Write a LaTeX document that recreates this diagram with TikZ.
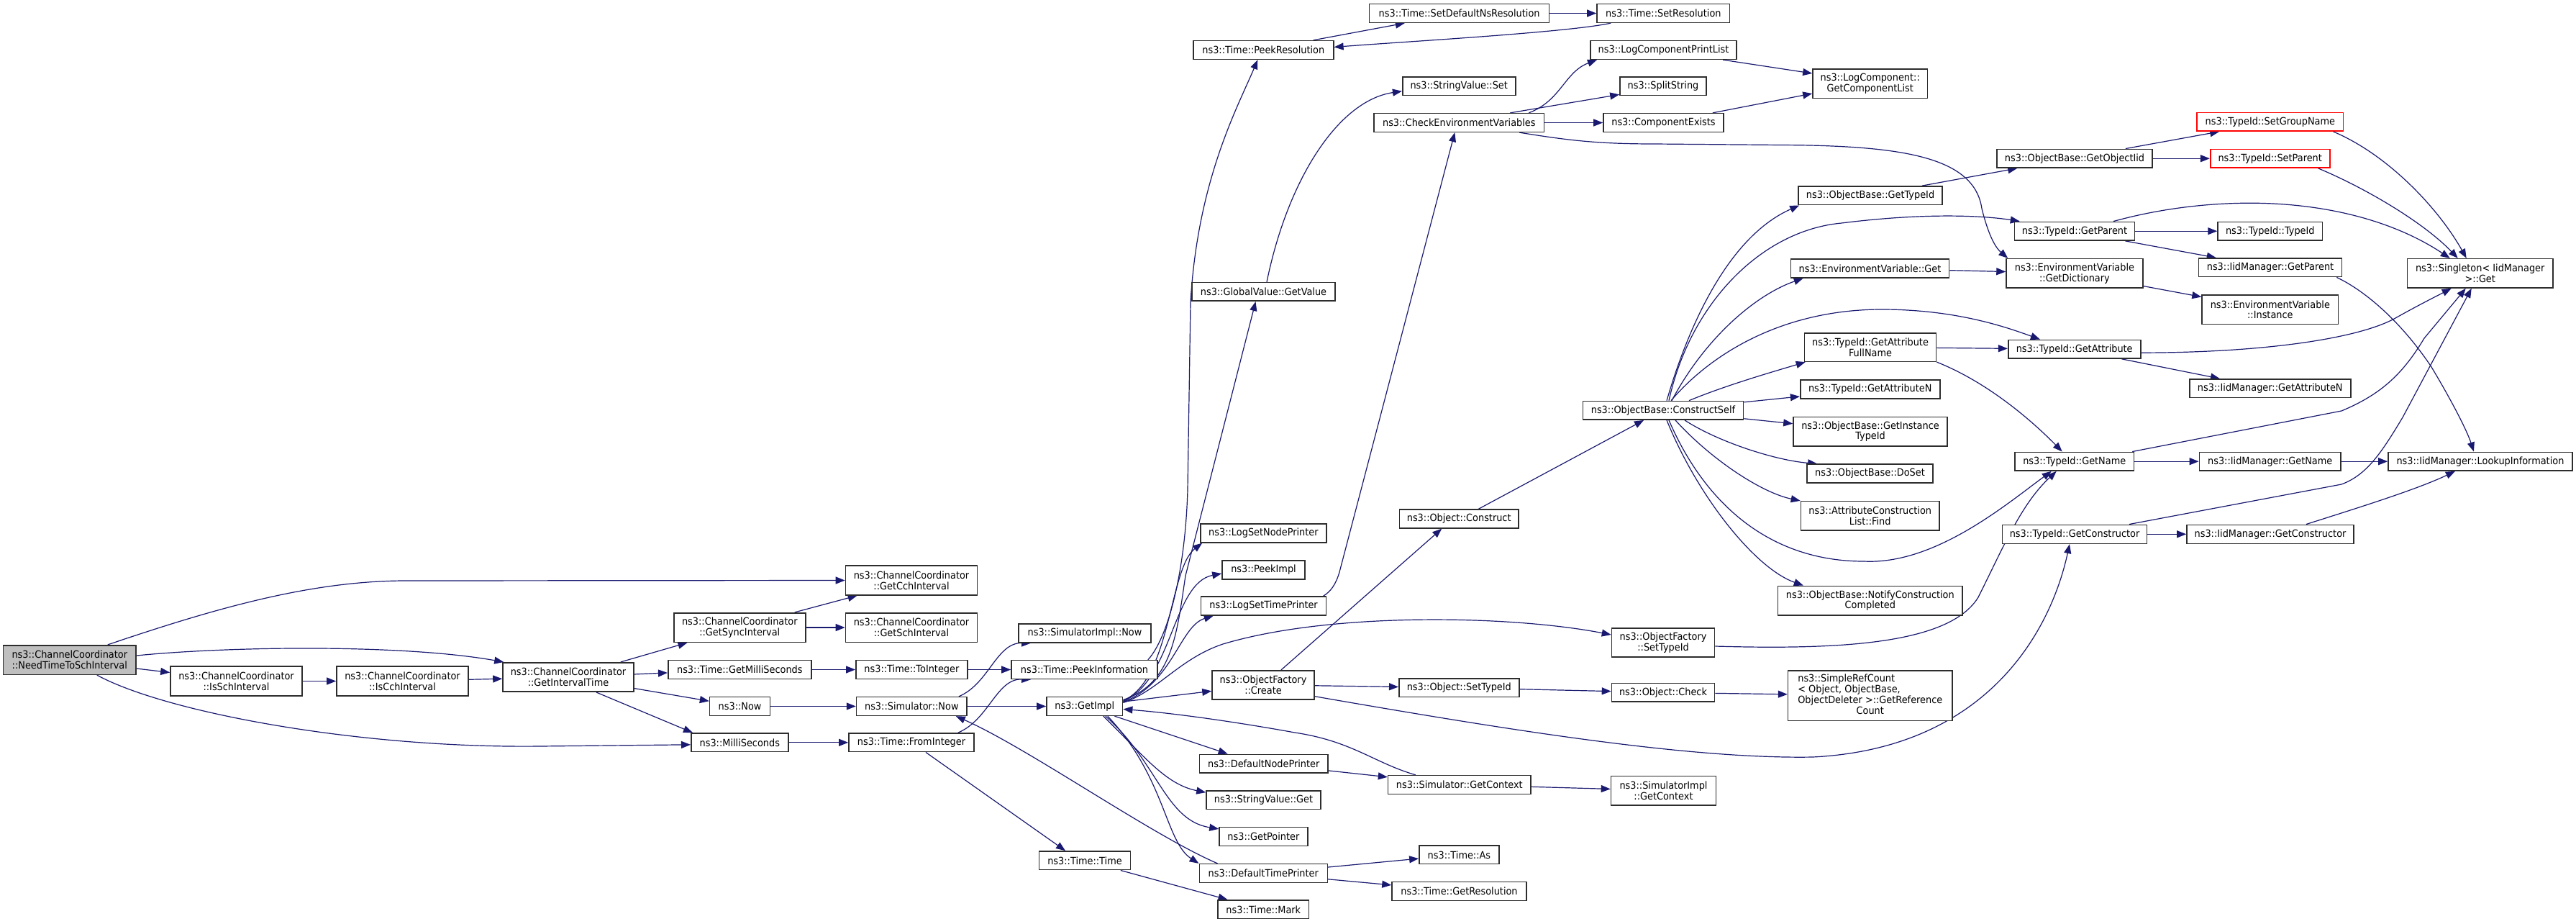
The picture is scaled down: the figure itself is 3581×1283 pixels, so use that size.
\documentclass[tikz,border=0pt]{standalone}
\usepackage{fontspec}
\setmainfont{DejaVu Sans}[FakeStretch=0.92]
\usetikzlibrary{arrows.meta}
\definecolor{edgec}{RGB}{25,25,112}
\definecolor{boxc}{RGB}{45,45,45}
\definecolor{rootfill}{RGB}{191,191,191}
\pgfdeclarelayer{bg}\pgfsetlayers{bg,main}
\newcommand{\nodefont}{\fontsize{14}{14.7}\selectfont}
\newcommand{\mkbox}[6][]{\node[box,minimum width=#4pt,minimum height=#5pt,#1] (#2) at (#3) {#6};}
\begin{document}
\begin{tikzpicture}[x=1pt,y=-1pt,
  box/.style={draw=boxc,line width=1.6pt,fill=white,inner sep=0pt,font=\nodefont,align=center},
  redbox/.style={draw=red},
  edge/.style={draw=edgec,line width=1.2pt,-{Triangle[length=13pt,width=10pt]}}]
\useasboundingbox (0,0) rectangle (3581,1283);
% ---------- nodes ----------
\mkbox[fill=rootfill]{n0}{96.8,917}{184.4}{40.6}{ns3::ChannelCoordinator\\::NeedTimeToSchInterval}
\mkbox{issch}{328.5,946.5}{183}{41}{ns3::ChannelCoordinator\\::IsSchInterval}
\mkbox{iscch}{559.5,946.5}{183}{41}{ns3::ChannelCoordinator\\::IsCchInterval}
\mkbox{git}{790,941}{182}{40.5}{ns3::ChannelCoordinator\\::GetIntervalTime}
\mkbox{gcch}{1267,806.5}{183}{40.6}{ns3::ChannelCoordinator\\::GetCchInterval}
\mkbox{gsync}{1028.3,872}{183}{40.6}{ns3::ChannelCoordinator\\::GetSyncInterval}
\mkbox{gsch}{1267,872}{183}{40.6}{ns3::ChannelCoordinator\\::GetSchInterval}
\mkbox{simplnow}{1508,880}{184}{25.7}{ns3::SimulatorImpl::Now}
\mkbox{tgms}{1028.3,930.5}{199}{25.7}{ns3::Time::GetMilliSeconds}
\mkbox{toint}{1267.4,930.5}{155}{25.7}{ns3::Time::ToInteger}
\mkbox{peekinfo}{1507.5,930.5}{203}{25.7}{ns3::Time::PeekInformation}
\mkbox{now}{1028.6,981.5}{84}{25.7}{ns3::Now}
\mkbox{simnow}{1267.3,981.5}{153.5}{25.7}{ns3::Simulator::Now}
\mkbox{getimpl}{1507.8,981.5}{105.6}{25.7}{ns3::GetImpl}
\mkbox{millis}{1028.3,1031.8}{135}{25.7}{ns3::MilliSeconds}
\mkbox{fromint}{1267,1031.8}{174}{25.7}{ns3::Time::FromInteger}
\mkbox{ttime}{1508,1195.8}{127}{25.7}{ns3::Time::Time}
\mkbox{create}{1756,951.7}{142}{40}{ns3::ObjectFactory\\::Create}
\mkbox{lsnp}{1756.4,741}{175}{25.7}{ns3::LogSetNodePrinter}
\mkbox{peekimpl}{1756.5,792}{115}{25.7}{ns3::PeekImpl}
\mkbox{lstp}{1756.6,842}{174}{25.7}{ns3::LogSetTimePrinter}
\mkbox{gv}{1756.5,405.4}{199}{25.7}{ns3::GlobalValue::GetValue}
\mkbox{peekres}{1756.3,69.5}{195}{25.7}{ns3::Time::PeekResolution}
\mkbox{sdns}{2028.6,18.5}{250}{25.7}{ns3::Time::SetDefaultNsResolution}
\mkbox{setres}{2312.3,18.5}{184.6}{25.7}{ns3::Time::SetResolution}
\mkbox{svset}{2028.2,119.7}{157}{25.7}{ns3::StringValue::Set}
\mkbox{checkenv}{2028.3,170.5}{236.6}{25.7}{ns3::CheckEnvironmentVariables}
\mkbox{lcpl}{2312.5,69.5}{203.5}{25.7}{ns3::LogComponentPrintList}
\mkbox{split}{2312,119.7}{120}{25.7}{ns3::SplitString}
\mkbox{compex}{2312.5,170.5}{167}{25.7}{ns3::ComponentExists}
\mkbox{gcl}{2599.7,116}{159.5}{40.6}{ns3::LogComponent::\\GetComponentList}
\mkbox{obgtid}{2600,271.8}{200}{25.7}{ns3::ObjectBase::GetTypeId}
\mkbox{evget}{2599.5,373}{220}{25.7}{ns3::EnvironmentVariable::Get}
\mkbox{gattfn}{2600,482.5}{183}{39.6}{ns3::TypeId::GetAttribute\\FullName}
\mkbox{gattn}{2599.7,541}{194}{25.7}{ns3::TypeId::GetAttributeN}
\mkbox{cself}{2312,570.3}{223}{25.7}{ns3::ObjectBase::ConstructSelf}
\mkbox{ginst}{2600,599.7}{214}{40.7}{ns3::ObjectBase::GetInstance\\TypeId}
\mkbox{doset}{2599.5,658}{175}{25.7}{ns3::ObjectBase::DoSet}
\mkbox{acfind}{2599.7,716.8}{192.5}{40.3}{ns3::AttributeConstruction\\List::Find}
\mkbox{construct}{2028.2,721}{165.6}{25.7}{ns3::Object::Construct}
\mkbox{notify}{2599.8,834.5}{256.4}{40.4}{ns3::ObjectBase::NotifyConstruction\\Completed}
\mkbox{ofsettid}{2312,893}{143}{40}{ns3::ObjectFactory\\::SetTypeId}
\mkbox{osettid}{2028.3,955.7}{167}{25.7}{ns3::Object::SetTypeId}
\mkbox{check}{2312,962.3}{143}{25.7}{ns3::Object::Check}
\mkbox{src}{2599.8,966.5}{228.4}{69.6}{\begin{tabular}{@{}l@{}}ns3::SimpleRefCount\\< Object, ObjectBase,\\ObjectDeleter >::GetReference\\\multicolumn{1}{@{}c@{}}{Count}\end{tabular}}
\mkbox{sgc}{2028.8,1090.5}{198.4}{25.7}{ns3::Simulator::GetContext}
\mkbox{sigc}{2312.5,1098.5}{146}{40.4}{ns3::SimulatorImpl\\::GetContext}
\mkbox{dnp}{1756.7,1061.2}{178.6}{25.7}{ns3::DefaultNodePrinter}
\mkbox{svget}{1756.5,1111.8}{159}{25.7}{ns3::StringValue::Get}
\mkbox{getptr}{1756.4,1162.5}{122.8}{25.7}{ns3::GetPointer}
\mkbox{dtp}{1756.3,1213.5}{178}{25.7}{ns3::DefaultTimePrinter}
\mkbox{tas}{2028.4,1187.8}{111}{25.7}{ns3::Time::As}
\mkbox{tgres}{2028.5,1238.5}{187}{25.7}{ns3::Time::GetResolution}
\mkbox{tmark}{1756.3,1263.8}{126.5}{25.7}{ns3::Time::Mark}
\mkbox[redbox]{gsgn}{3155.8,169.2}{203.6}{25.7}{ns3::TypeId::SetGroupName}
\mkbox{gobjiid}{2884,220.2}{216}{25.7}{ns3::ObjectBase::GetObjectIid}
\mkbox[redbox]{setparent}{3155.7,220.2}{166}{25.7}{ns3::TypeId::SetParent}
\mkbox{tgparent}{2884,321.2}{167}{25.7}{ns3::TypeId::GetParent}
\mkbox{ttid}{3155.8,321.2}{145.5}{25.7}{ns3::TypeId::TypeId}
\mkbox{gdict}{2883.9,379.8}{189.7}{40.3}{ns3::EnvironmentVariable\\::GetDictionary}
\mkbox{imgparent}{3156,371.8}{199}{25.7}{ns3::IidManager::GetParent}
\mkbox{evinst}{3155.8,430.3}{189.5}{40.7}{ns3::EnvironmentVariable\\::Instance}
\mkbox{singleton}{3447.7,379.8}{202.3}{40.3}{ns3::Singleton< IidManager\\>::Get}
\mkbox{tgattr}{2883.7,485.2}{184}{25.7}{ns3::TypeId::GetAttribute}
\mkbox{imgattn}{3155.7,539.8}{224}{25.7}{ns3::IidManager::GetAttributeN}
\mkbox{tgname}{2883.7,641.2}{165.4}{25.7}{ns3::TypeId::GetName}
\mkbox{imgname}{3155.7,641.2}{196.6}{25.7}{ns3::IidManager::GetName}
\mkbox{lookup}{3447.9,641.2}{255.8}{25.7}{ns3::IidManager::LookupInformation}
\mkbox{tgctor}{2884,742.3}{200.7}{26}{ns3::TypeId::GetConstructor}
\mkbox{imgctor}{3156,742.3}{232}{26}{ns3::IidManager::GetConstructor}
% ---------- edges ----------
\begin{pgfonlayer}{bg}
\draw[edge] ([xshift=53pt]n0.north) .. controls (300,845) and (430,808) .. (560,807) -- (gcch.west);
\draw[edge] ([yshift=6pt]n0.east) .. controls (320,898) and (560,895) .. ([xshift=2pt]git.north west);
\draw[edge] ([yshift=-12pt]n0.east) -- ([yshift=12pt]issch.west);
\draw[edge] ([xshift=38pt]n0.south) .. controls (230,990) and (500,1040) .. (750,1037) -- ([yshift=-3pt]millis.west);
\draw[edge] (issch) -- (iscch);
\draw[edge] (iscch) -- (git);
\draw[edge] (git) -- (gsync);
\draw[edge] (git) -- (tgms);
\draw[edge] (git) -- (now);
\draw[edge] ([xshift=39pt]git.south) -- ([xshift=3pt]millis.north west);
\draw[edge] ([xshift=-16pt]gsync.north east) -- ([xshift=17pt]gcch.south west);
\draw[edge] (gsync) -- (gsch);
\draw[edge] (tgms) -- (toint);
\draw[edge] (toint) -- (peekinfo);
\draw[edge] (now) -- (simnow);
\draw[edge] (simnow) -- (getimpl);
\draw[edge] (millis) -- (fromint);
\draw[edge] ([xshift=-12pt]simnow.north east) .. controls (1375,950) and (1385,893) .. ([xshift=18pt]simplnow.south west);
\draw[edge] ([xshift=-23pt]fromint.north east) .. controls (1375,1000) and (1385,943) .. ([xshift=28pt]peekinfo.south west);
\draw[edge] ([xshift=20pt]fromint.south) -- ([xshift=-27pt]ttime.north);
\draw[edge] ([xshift=26pt]dtp.north west) .. controls (1600,1160) and (1430,1040) .. ([xshift=-16pt]simnow.south east);
\draw[edge] ([xshift=-14pt]peekinfo.north east) .. controls (1625,885) and (1648,790) .. (1651,680) -- (1655,420) .. controls (1665,250) and (1720,150) .. ([xshift=-8pt]peekres.south);
\draw[edge] ([xshift=-29pt]peekres.north east) -- ([xshift=50pt]sdns.south west);
\draw[edge] (sdns) -- (setres);
\draw[edge] ([xshift=20pt]setres.south west) .. controls (2180,45) and (1950,58) .. ([yshift=4pt]peekres.east);
\draw[edge] ([yshift=9pt]getimpl.east) .. controls (1630,950) and (1636,880) .. (1648,800) -- ([xshift=-11pt]gv.south);
\draw[edge] ([yshift=8pt]getimpl.east) .. controls (1628,945) and (1625,790) .. ([xshift=3pt]lsnp.south west);
\draw[edge] ([yshift=7pt]getimpl.east) .. controls (1630,945) and (1630,810) .. ([yshift=-5pt]peekimpl.west);
\draw[edge] ([yshift=6pt]getimpl.east) .. controls (1630,950) and (1640,870) .. ([xshift=18pt]lstp.south west);
\draw[edge] ([yshift=5pt]getimpl.east) .. controls (1610,960) and (1640,915) .. (1700,895) .. controls (1850,850) and (2100,855) .. ([yshift=11pt]ofsettid.west);
\draw[edge] (getimpl) -- (create);
\draw[edge] ([xshift=39pt]sgc.north west) .. controls (1910,1060) and (1880,1030) .. (1800,1018) .. controls (1700,1000) and (1620,990) .. ([yshift=-4pt]getimpl.east);
\draw[edge] ([xshift=-12pt]getimpl.south east) -- ([xshift=40pt]dnp.north west);
\draw[edge] ([xshift=26pt]getimpl.south) .. controls (1590,1050) and (1620,1090) .. ([yshift=-3pt]svget.north west);
\draw[edge] ([xshift=29pt]getimpl.south) .. controls (1610,1060) and (1620,1140) .. ([yshift=-3pt]getptr.north west);
\draw[edge] ([xshift=32pt]getimpl.south) .. controls (1620,1080) and (1620,1170) .. (dtp.north west);
\draw[edge] (dnp) -- (sgc);
\draw[edge] (sgc) -- (sigc);
\draw[edge] (dtp) -- (tas);
\draw[edge] (dtp) -- (tgres);
\draw[edge] (ttime) -- (tmark);
\draw[edge] ([xshift=25pt]create.north) -- ([xshift=-24pt]construct.south);
\draw[edge] ([xshift=27pt]construct.north) -- ([xshift=-27pt]cself.south);
\draw[edge] (create) -- (osettid);
\draw[edge] (osettid) -- (check);
\draw[edge] (check) -- (src);
\draw[edge] ([yshift=-16pt]create.east) .. controls (2100,1015) and (2350,1055) .. (2520,1052) .. controls (2760,1040) and (2850,880) .. ([xshift=-7pt]tgctor.south);
\draw[edge] ([yshift=-5pt]ofsettid.east) .. controls (2560,903) and (2710,895) .. (2750,830) .. controls (2785,760) and (2810,700) .. ([xshift=-25pt]tgname.south);
\draw[edge] ([xshift=8pt]cself.south) .. controls (2370,700) and (2460,780) .. (2591,780) .. controls (2690,785) and (2790,700) .. ([xshift=-32pt]tgname.south);
\draw[edge] ([xshift=5pt]cself.south) .. controls (2360,690) and (2440,790) .. ([xshift=36pt]notify.north west);
\draw[edge] ([xshift=17pt]cself.south) .. controls (2380,640) and (2450,685) .. (acfind.north west);
\draw[edge] ([xshift=30pt]cself.south) .. controls (2390,615) and (2470,640) .. ([xshift=15pt]doset.north west);
\draw[edge] (cself) -- (ginst);
\draw[edge] (cself) -- (gattn);
\draw[edge] ([xshift=36pt]cself.north) .. controls (2400,535) and (2470,515) .. ([xshift=2pt]gattfn.south west);
\draw[edge] ([xshift=11pt]cself.north) .. controls (2380,490) and (2480,430) .. (2616,430) .. controls (2720,430) and (2790,455) .. ([xshift=45pt]tgattr.north west);
\draw[edge] ([xshift=5pt]cself.north) .. controls (2345,460) and (2400,330) .. ([xshift=2pt]obgtid.south west);
\draw[edge] ([xshift=8pt]cself.north) .. controls (2350,420) and (2450,320) .. (2560,310) .. controls (2680,295) and (2760,300) .. ([xshift=8pt]tgparent.north west);
\draw[edge] ([xshift=12pt]cself.north) .. controls (2370,470) and (2440,410) .. ([xshift=18pt]evget.south west);
\draw[edge] ([xshift=84pt]checkenv.south) .. controls (2180,195) and (2220,200) .. (2300,200) -- (2500,201.7) .. controls (2650,204) and (2745,220) .. (2755,290) .. controls (2765,330) and (2775,345) .. ([xshift=3pt]gdict.north west);
\draw[edge] (evget) -- (gdict);
\draw[edge] (gdict) -- (evinst);
\draw[edge] ([xshift=-29pt]obgtid.north east) -- ([xshift=29pt]gobjiid.south west);
\draw[edge] ([xshift=-38pt]gobjiid.north east) -- ([xshift=32pt]gsgn.south west);
\draw[edge] (gobjiid) -- (setparent);
\draw[edge] ([xshift=-15pt]gsgn.south east) .. controls (3320,215) and (3390,290) .. ([xshift=-19pt]singleton.north);
\draw[edge] ([xshift=-17pt]setparent.south east) .. controls (3290,262) and (3370,310) .. ([xshift=-31pt]singleton.north);
\draw[edge] ([xshift=54pt]tgparent.north) .. controls (3020,285) and (3100,280) .. (3160,283) .. controls (3260,288) and (3340,315) .. ([xshift=-42pt]singleton.north);
\draw[edge] (tgparent) -- (ttid);
\draw[edge] ([xshift=-14pt]tgparent.south east) -- ([xshift=25pt]imgparent.north west);
\draw[edge] ([xshift=-8pt]imgparent.south east) .. controls (3290,405) and (3340,450) .. (3380,510) .. controls (3410,560) and (3430,600) .. ([xshift=-9pt]lookup.north);
\draw[edge] ([yshift=-5pt]tgattr.east) .. controls (3150,490) and (3280,470) .. (3330,442) .. controls (3360,425) and (3390,410) .. ([xshift=-40pt]singleton.south);
\draw[edge] ([xshift=-27pt]tgattr.south east) -- ([xshift=43pt]imgattn.north west);
\draw[edge] (gattfn) -- (tgattr);
\draw[edge] (gattfn.south east) .. controls (2760,530) and (2820,580) .. ([xshift=-17pt]tgname.north);
\draw[edge] ([xshift=-3pt]tgname.north east) -- (3255,571) .. controls (3310,548) and (3340,520) .. (3370,470) -- ([xshift=-20pt]singleton.south);
\draw[edge] ([xshift=-25pt]tgctor.north east) -- (3255,673) .. controls (3290,660) and (3310,630) .. (3340,580) -- ([xshift=-12pt]singleton.south);
\draw[edge] (tgname) -- (imgname);
\draw[edge] (imgname) -- (lookup);
\draw[edge] (tgctor) -- (imgctor);
\draw[edge] ([xshift=50pt]imgctor.north) .. controls (3280,705) and (3360,680) .. ([xshift=-35pt]lookup.south);
\draw[edge] ([xshift=97pt]checkenv.north) .. controls (2170,140) and (2175,100) .. ([xshift=10pt]lcpl.south west);
\draw[edge] ([xshift=71pt]checkenv.north) -- ([yshift=2pt]split.south west);
\draw[edge] (checkenv) -- (compex);
\draw[edge] ([xshift=-20pt]lcpl.south east) -- ([yshift=14pt]gcl.west);
\draw[edge] ([xshift=-16pt]compex.north east) -- ([yshift=-14pt]gcl.west);
\draw[edge] ([xshift=4.5pt]gv.north) .. controls (1790,250) and (1860,140) .. ([yshift=-7pt]svset.west);
\draw[edge] ([xshift=-5pt]lstp.north east) .. controls (1850,822) and (1857,812) .. (1862,795) -- ([xshift=-6pt]checkenv.south);
\end{pgfonlayer}
\end{tikzpicture}
\end{document}
